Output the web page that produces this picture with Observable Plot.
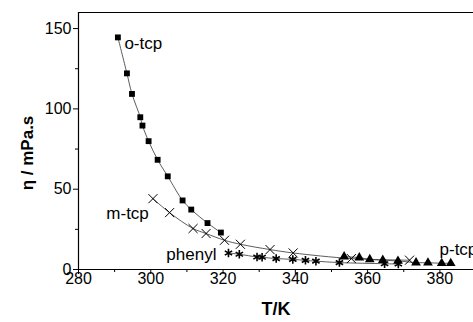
<!DOCTYPE html>
<html>
<head>
<meta charset="utf-8">
<script src="https://cdn.jsdelivr.net/npm/d3@7"></script>
<script src="https://cdn.jsdelivr.net/npm/@observablehq/plot@0.6"></script>
<style>
  html, body { margin: 0; padding: 0; background: #fff; }
  svg { font-family: "Liberation Sans", Arial, sans-serif; }
</style>
</head>
<body>
<div id="chart"></div>
<script>
// o-tcp
const oT   = [290.9, 293.4, 294.8, 297.1, 297.7, 299.4, 301.9, 304.7, 308.8, 311.2, 315.7, 319.4];
const oEta = [144.5, 122.1, 109.3, 94.8, 89.6, 79.9, 68.3, 58.0, 43.0, 37.3, 28.9, 23.0];
// m-tcp
const mT   = [300.6, 305.2, 311.7, 315.3, 320.4, 324.8, 333.0, 339.4, 355.5, 371.6];
const mEta = [44.1, 35.4, 25.5, 22.4, 18.2, 15.7, 12.4, 10.3, 6.8, 5.8];
// phenyl
const phT   = [321.5, 324.5, 329.4, 330.8, 334.7, 339.3, 342.8, 345.7, 352.2, 364.7, 368.5];
const phEta = [10.3, 9.5, 7.8, 7.6, 6.8, 6.3, 5.7, 5.2, 4.3, 3.6, 3.4];
// p-tcp
const pT   = [353.5, 357.7, 360.6, 364.2, 368.4, 373.4, 376.7, 380.5, 383.0];
const pEta = [8.0, 7.4, 6.3, 5.8, 5.3, 4.3, 4.2, 3.9, 3.9];

// labels
const labelText = ["o-tcp", "m-tcp", "phenyl", "p-tcp"];
const labelT    = [292.7, 287.7, 304.3, 379.9];
const labelEta  = [140.5, 35.0, 9.5, 12.6];

// ticks
const xTicks = [280, 300, 320, 340, 360, 380];
const xMinor = [290, 310, 330, 350, 370];
const yTicks = [0, 50, 100, 150];
const yMinor = [25, 75, 125];

const zip = (xs, ys) => xs.map((x, i) => ({T: x, eta: ys[i]}));
const oD = zip(oT, oEta), mD = zip(mT, mEta), phD = zip(phT, phEta), pD = zip(pT, pEta);
const labels = labelText.map((t, i) => ({t, T: labelT[i], eta: labelEta[i]}));

const chart = Plot.plot({
  width: 473,
  height: 322,
  marginLeft: 78,
  marginRight: 0,
  marginTop: 12,
  marginBottom: 53,
  style: {fontFamily: '"Liberation Sans", Arial, sans-serif', background: "#fff", color: "#000"},
  x: {domain: [280, 389.3]},
  y: {domain: [0, 160]},
  marks: [
    Plot.axisX({ticks: xTicks, tickSize: 5, tickPadding: -2, fontSize: 16, label: null, stroke: "#000"}),
    Plot.axisX({ticks: xMinor, tickSize: 3, tickFormat: () => "", label: null}),
    Plot.axisY({ticks: yTicks, tickSize: 5, tickPadding: 2, fontSize: 16, label: null}),
    Plot.axisY({ticks: yMinor, tickSize: 3, tickFormat: () => "", label: null}),
    Plot.ruleX([280], {stroke: "#000", strokeWidth: 1.2}),
    Plot.ruleY([0], {stroke: "#000", strokeWidth: 1.2}),
    Plot.ruleY([160], {stroke: "#000", strokeWidth: 1.2}),
    Plot.line(oD, {x: "T", y: "eta", curve: "catmull-rom", stroke: "#333", strokeWidth: 0.8}),
    Plot.line(mD, {x: "T", y: "eta", curve: "catmull-rom", stroke: "#333", strokeWidth: 0.8}),
    Plot.line(phD, {x: "T", y: "eta", curve: "catmull-rom", stroke: "#333", strokeWidth: 0.8}),
    Plot.line(pD, {x: "T", y: "eta", curve: "catmull-rom", stroke: "#333", strokeWidth: 0.8}),
    Plot.dot(oD, {x: "T", y: "eta", symbol: "square", r: 3.3, fill: "#000", stroke: "none"}),
    Plot.dot(mD, {x: "T", y: "eta", symbol: "times", r: 4.2, stroke: "#000", strokeWidth: 1, fill: "none"}),
    Plot.dot(phD, {x: "T", y: "eta", symbol: "asterisk", r: 4, stroke: "#000", strokeWidth: 1.6, fill: "none"}),
    Plot.dot(pD, {x: "T", y: "eta", symbol: "triangle", r: 3.6, fill: "#000", stroke: "none"}),
    Plot.text(labels, {x: "T", y: "eta", text: "t", textAnchor: "start", lineAnchor: "middle", fontSize: 17, fill: "#000"}),
    Plot.text(["T/K"], {frameAnchor: "bottom", dy: 45, text: d => d, fontSize: 18, fontWeight: "bold", fill: "#000"})
  ]
});

// y axis title (outside the plot frame)
const svg = d3.select(chart);
svg.append("text")
  .attr("transform", "translate(29,153) rotate(-90)")
  .attr("text-anchor", "middle")
  .attr("dominant-baseline", "middle")
  .attr("font-size", 17)
  .attr("font-weight", "bold")
  .attr("fill", "#000")
  .text("η / mPa.s");

document.getElementById("chart").appendChild(chart);
</script>
</body>
</html>
